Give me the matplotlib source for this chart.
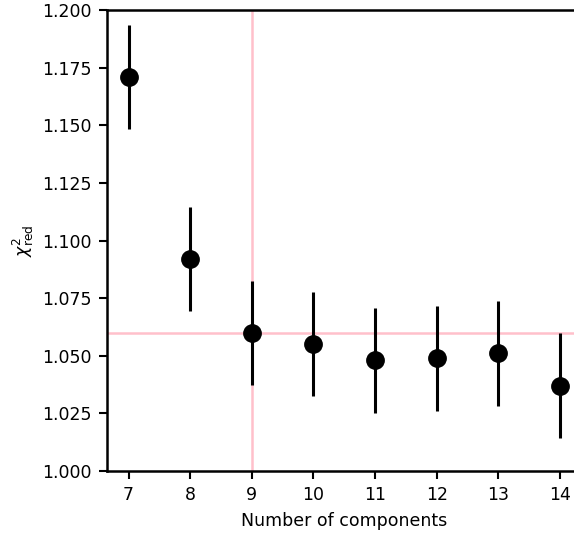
import matplotlib
matplotlib.use('Agg')
import matplotlib.pyplot as plt
import numpy as np

# values
n_comp = [7, 8, 9, 10, 11, 12, 13, 14]
chi2_red = [1.171, 1.092, 1.060, 1.055, 1.048, 1.049, 1.051, 1.037]
chi2_err = [0.0227, 0.0226, 0.0226, 0.0226, 0.0227, 0.0228, 0.0227, 0.0228]
best_n = 9
best_chi2 = 1.060

W, H = 574, 536
fig = plt.figure(figsize=(W / 100, H / 100), dpi=100)
# axes runs a bit past the right edge, as in the reference
ax = fig.add_axes([107 / W, 65 / H, 474.5 / W, 461 / H])

ax.axvline(best_n, color='pink', lw=1.8, zorder=1)
ax.axhline(best_chi2, color='pink', lw=1.8, zorder=1)
ax.errorbar(n_comp, chi2_red, yerr=chi2_err, fmt='o', color='black',
            ms=12.5, elinewidth=2.2, capsize=0, zorder=3)

ax.set_xlim(6.65, 14.35)
ax.set_ylim(1.0, 1.2)
ax.set_xticks(n_comp)
ax.set_yticks(np.arange(1.0, 1.2001, 0.025))
ax.yaxis.set_major_formatter(matplotlib.ticker.FormatStrFormatter('%.3f'))

ax.set_xlabel('Number of components', fontsize=12.5, labelpad=6)
ax.set_ylabel(r'$\chi^2_{\rm red}$', fontsize=12.5, labelpad=5)
ax.tick_params(labelsize=12.5, length=5.8, width=1.5, pad=5)
for s in ax.spines.values():
    s.set_linewidth(1.8)

fig.savefig('out.png', dpi=100)
